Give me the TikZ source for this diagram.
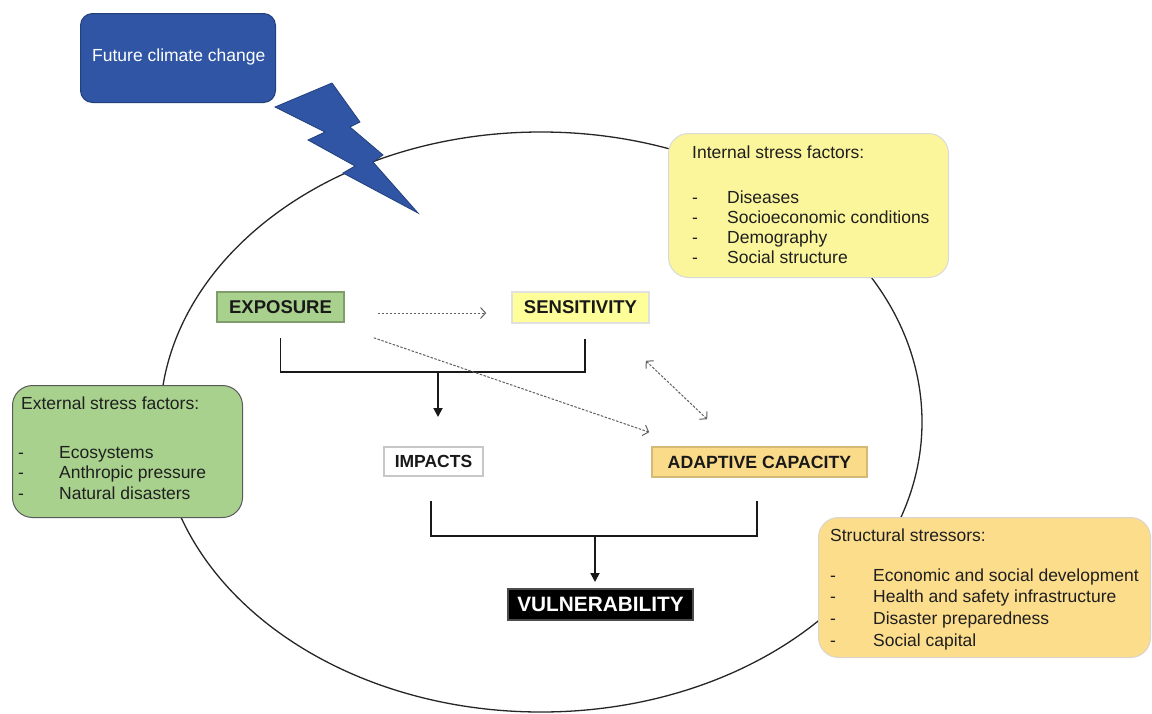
\documentclass[tikz,border=0pt]{standalone}
\usepackage{fontspec}
\setmainfont{Liberation Sans}
\usetikzlibrary{arrows.meta}
\definecolor{cblue}{HTML}{2F55A4}
\definecolor{cbluedark}{HTML}{22407C}
\definecolor{cgreen}{HTML}{A9D18E}
\definecolor{cyellow}{HTML}{FFFF99}
\definecolor{cintyel}{HTML}{FBF59C}
\definecolor{corange}{HTML}{FCDD8C}
\definecolor{cadapt}{HTML}{FADB8A}
\begin{document}
\begin{tikzpicture}[x=1pt,y=-1pt,
  lbl/.style={rectangle, line width=1.6pt, inner sep=0pt, text=black!90,
    font=\fontsize{18.5}{20}\selectfont\bfseries},
  infobox/.style={rectangle, rounded corners=20pt, anchor=north west, line width=1pt},
  txt/.style={anchor=base west, inner sep=0pt, text=black!88,
    font=\fontsize{17.5}{20}\selectfont},
  bracket/.style={line width=1.8pt, black!90},
  arr/.style={bracket, -{Triangle[length=9pt,width=9pt]}},
  dotarr/.style={gray!75!black, line width=1pt, dash pattern=on 2.5pt off 1.5pt,
    -{Straight Barb[length=5pt,width=11pt]}},
  dotdbl/.style={gray!75!black, line width=1pt, dash pattern=on 2.5pt off 1.5pt,
    {Straight Barb[length=5pt,width=11pt]}-{Straight Barb[length=5pt,width=11pt]}}]
\useasboundingbox (0,0) rectangle (1152,713);
\fill[white] (0,0) rectangle (1152,713);

% big ellipse
\draw[line width=1.3pt, black!85] (541,422) ellipse [x radius=381pt, y radius=290pt];

% future climate change
\node[fill=cblue, draw=cbluedark, line width=1pt, rounded corners=12pt,
  minimum width=195pt, minimum height=89pt, anchor=north west] (fcc) at (80,13) {};
\node[txt, text=white] (fccT) at (92,61) {Future climate change};

% lightning
\filldraw[fill=cblue, draw=cbluedark, line width=0.8pt]
  (275,107) -- (332,83) -- (360,122) -- (350,127) -- (383,155) -- (373,162)
  -- (418,213) -- (343,173) -- (355,166) -- (308,140) -- (325,132) -- cycle;

% internal stress factors
\node[infobox, fill=cintyel, draw=black!15, minimum width=280pt, minimum height=144pt] (int) at (668,133) {};
\node[txt] (intH) at (692,158) {Internal stress factors:};
\foreach \t [count=\i] in {Diseases, Socioeconomic conditions, Demography, Social structure}
  \node[txt] (int\i) at (692,{203+20.3*(\i-1)}) {\makebox[35pt][l]{-}\t};

% external stress factors
\node[infobox, fill=cgreen, draw=black!65, minimum width=230pt, minimum height=132pt] (ext) at (12,385) {};
\node[txt] (extH) at (21,409) {External stress factors:};
\foreach \t [count=\i] in {Ecosystems, Anthropic pressure, Natural disasters}
  \node[txt] (ext\i) at (18,{458+20.5*(\i-1)}) {\makebox[41pt][l]{-}\t};

% structural stressors
\node[infobox, fill=corange, draw=orange!30!black!20, minimum width=332pt, minimum height=140pt] (str) at (818,517) {};
\node[txt] (strH) at (830,541) {Structural stressors:};
\foreach \t [count=\i] in {Economic and social development, Health and safety infrastructure, Disaster preparedness, Social capital}
  \node[txt] (str\i) at (830,{581+21.67*(\i-1)}) {\makebox[43pt][l]{-}\t};

% labels
\node[lbl, fill=cgreen, draw=black!25!cgreen, minimum width=127pt, minimum height=30pt] (exp) at (280.5,307) {EXPOSURE};
\node[lbl, fill=cyellow, draw=black!12, minimum width=137pt, minimum height=31pt] (sens) at (580.5,307.5) {SENSITIVITY};
\node[lbl, fill=white, draw=black!22, minimum width=99pt, minimum height=29pt,
  font=\fontsize{17.5}{20}\selectfont\bfseries] (imp) at (433.5,461.5) {IMPACTS};
\node[lbl, fill=cadapt, draw=black!15!cadapt, minimum width=215pt, minimum height=30pt,
  font=\fontsize{17.7}{20}\selectfont\bfseries] (adap) at (759.5,462) {ADAPTIVE CAPACITY};
\node[lbl, fill=black, draw=black!70, text=white, minimum width=185pt, minimum height=31pt,
  font=\fontsize{20.8}{22}\selectfont\bfseries] (vul) at (600.5,604.5) {VULNERABILITY};

% brackets
\draw[bracket] ([yshift=-15pt]exp.south) -- ++(0,34) -| ([xshift=4.5pt,yshift=-15pt]sens.south);
\coordinate (b1M) at (438,371);
\coordinate (b1E) at (438,417);
\draw[arr] (b1M) -- (b1E);

\draw[bracket] ([xshift=-2.5pt,yshift=-24pt]imp.south) -- ++(0,35) -| ([xshift=-2.5pt,yshift=-23pt]adap.south);
\coordinate (b2M) at (595,535);
\coordinate (b2E) at (595,582);
\draw[arr] (b2M) -- (b2E);

% dotted arrows
\draw[dotarr] ([shift={(33,6)}]exp.east) -- ([shift={(-25,5.5)}]sens.west);
\draw[dotarr] ([shift={(29,15)}]exp.south east) -- ([shift={(-2,-14)}]adap.north west);
\draw[dotdbl] ([shift={(-4,37)}]sens.south east) -- ([shift={(56,-27)}]adap.north west);
\end{tikzpicture}
\end{document}
